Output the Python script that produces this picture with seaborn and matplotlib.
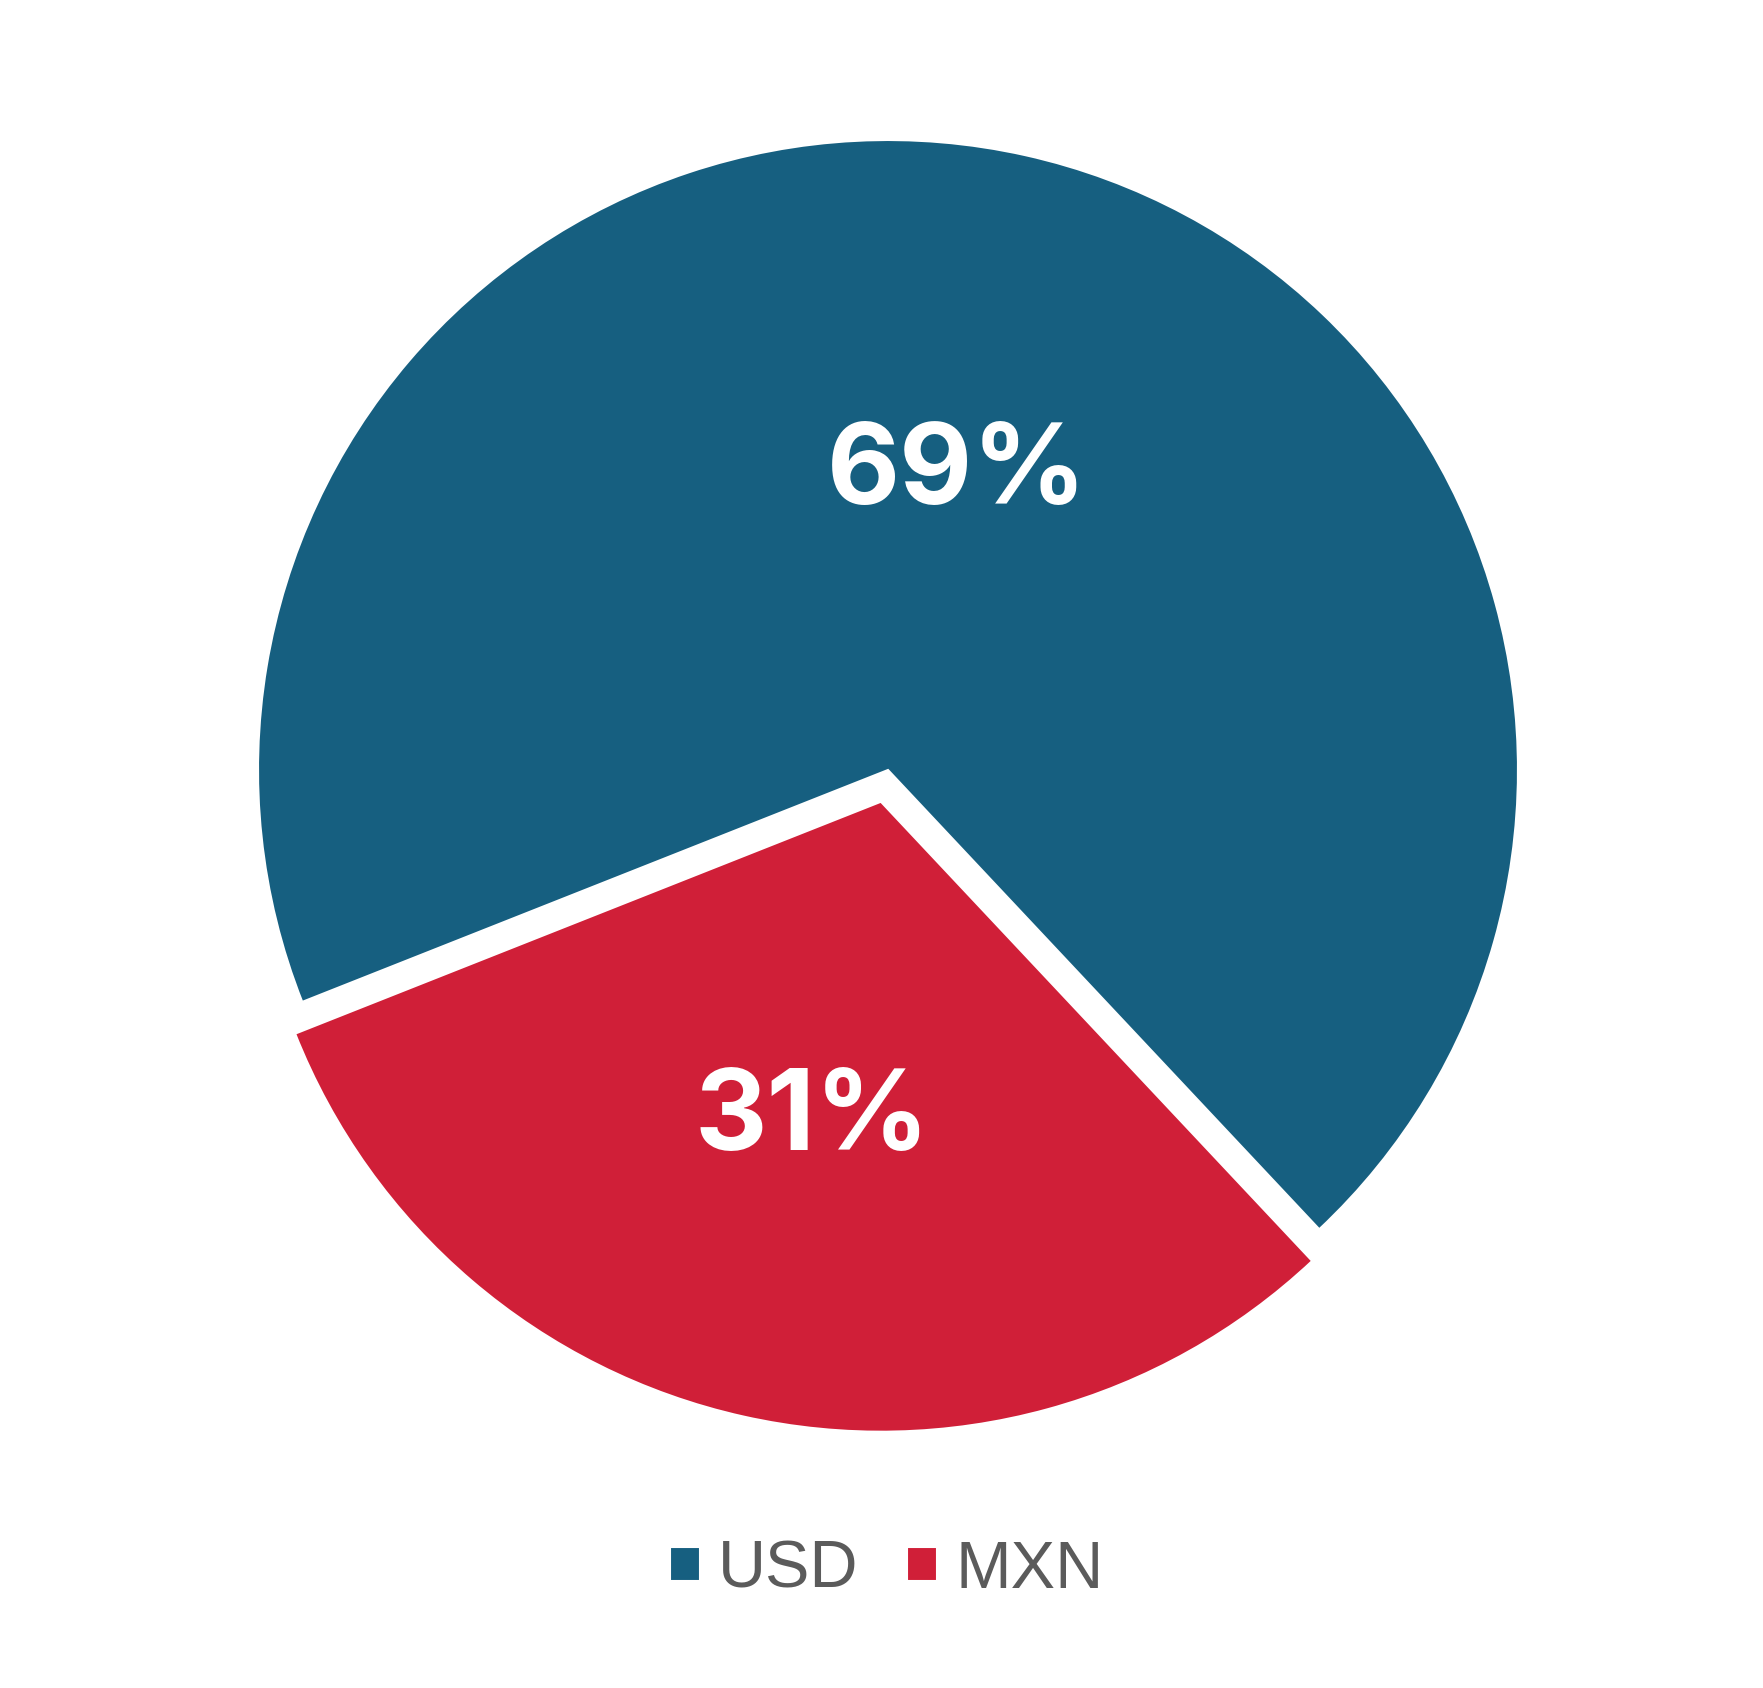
import numpy as np
import matplotlib
matplotlib.use("Agg")
import matplotlib.pyplot as plt
import seaborn as sns

# datos
currencies = ["USD", "MXN"]
shares = [69, 31]
colors = ["#165f80", "#d01f38"]
explode = [0, 0.0516]

sns.set_theme(style="white")
plt.rcParams['font.family'] = ['Liberation Sans', 'DejaVu Sans']

fig = plt.figure(figsize=(17.63, 16.88), dpi=100)
ax = fig.add_axes([0, 0, 1, 1])

wedges, texts, autotexts = ax.pie(
    shares,
    colors=colors,
    explode=explode,
    startangle=201.6,
    counterclock=False,
    autopct=lambda p: f"{p:.0f}%",
    pctdistance=0.5,
    wedgeprops=dict(edgecolor="white", linewidth=1.5),
    textprops=dict(color="white", fontsize=81, fontweight="bold",
                   family=["Inter", "DejaVu Sans"]),
)
for t in autotexts:
    t.set_verticalalignment("center_baseline")

# radio 1 = 630 px, centro en (888, 770) px
ax.set_xlim(-888 / 630, (1763 - 888) / 630)
ax.set_ylim(-(1688 - 770) / 630, 770 / 630)
ax.set_aspect("equal")
ax.axis("off")

leg = fig.legend(
    wedges, currencies,
    loc="center", bbox_to_anchor=(0.503, 0.0695),
    ncol=2, frameon=False,
    fontsize=48,
    handlelength=0.45, handleheight=0.40,
    handletextpad=0.28, columnspacing=0.72,
)
for t in leg.get_texts():
    t.set_color("#5b5b5b")

fig.savefig("out.png", dpi=100, facecolor="white")
